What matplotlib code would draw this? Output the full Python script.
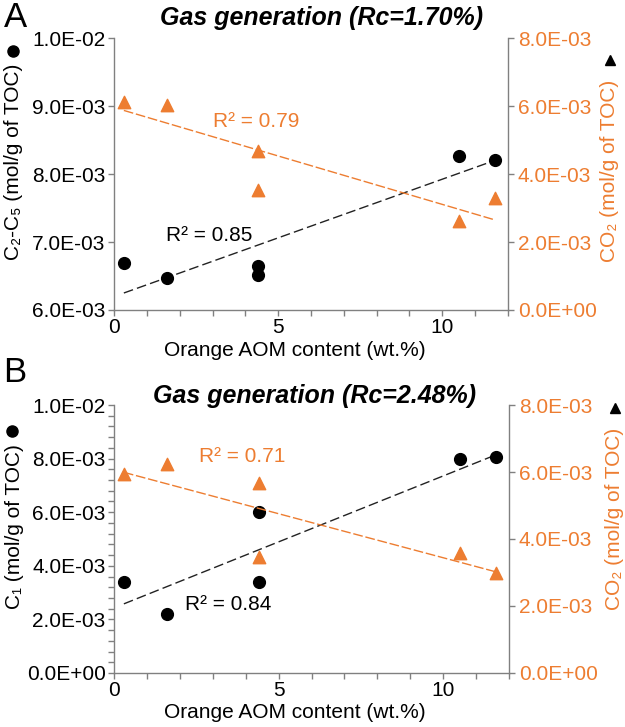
import matplotlib
matplotlib.use("Agg")
import matplotlib.pyplot as plt
from matplotlib.ticker import MultipleLocator, FuncFormatter, NullFormatter

plt.rcParams['font.family'] = ['Liberation Sans', 'DejaVu Sans']

ORANGE = '#ED7D31'
SPINE = '#808080'

# ---------------- data ----------------
aom = [0.3, 1.6, 4.4, 4.4, 10.5, 11.6]

# Panel A (Rc = 1.70%)
c2c5_a = [6.69e-3, 6.47e-3, 6.65e-3, 6.51e-3, 8.27e-3, 8.21e-3]
co2_a = [6.12e-3, 6.03e-3, 4.68e-3, 3.54e-3, 2.62e-3, 3.29e-3]
trend_x = [0.3, 11.6]
trend_c2c5_a = [6.25e-3, 8.20e-3]
trend_co2_a = [5.87e-3, 2.65e-3]
r2_c2c5_a = "R² = 0.85"
r2_co2_a = "R² = 0.79"

# Panel B (Rc = 2.48%)
c1_b = [3.41e-3, 2.21e-3, 5.99e-3, 3.39e-3, 7.98e-3, 8.06e-3]
co2_b = [5.94e-3, 6.23e-3, 5.66e-3, 3.45e-3, 3.59e-3, 2.99e-3]
trend_c1_b = [2.58e-3, 8.14e-3]
trend_co2_b = [5.99e-3, 3.02e-3]
r2_c1_b = "R² = 0.84"
r2_co2_b = "R² = 0.71"

xlabel = "Orange AOM content (wt.%)"
title_a = "Gas generation (Rc=1.70%)"
title_b = "Gas generation (Rc=2.48%)"
ylabel_a = "C₂-C₅ (mol/g of TOC)"
ylabel_b = "C₁ (mol/g of TOC)"
ylabel_r = "CO₂ (mol/g of TOC)"

FS = 15


def sci(v, pos):
    if v == 0:
        return "0.0E+00"
    return f"{v:.1E}"


def style_axes(ax, axr, left_lim, left_major, left_minor, right_lim, right_major):
    ax.set_xlim(0, 12)
    ax.set_ylim(*left_lim)
    axr.set_ylim(*right_lim)
    for a in (ax, axr):
        for s in a.spines.values():
            s.set_color(SPINE)
            s.set_linewidth(1.0)
        a.spines['top'].set_visible(False)
    ax.spines['right'].set_visible(False)
    axr.spines['left'].set_visible(False)
    axr.spines['bottom'].set_visible(False)

    ax.xaxis.set_major_locator(MultipleLocator(5))
    ax.xaxis.set_minor_locator(MultipleLocator(1))
    ax.xaxis.set_minor_formatter(NullFormatter())
    ax.tick_params(axis='x', which='both', direction='out', length=4, width=1,
                   color=SPINE, labelsize=FS, pad=2)
    ax.yaxis.set_major_locator(MultipleLocator(left_major))
    if left_minor:
        ax.yaxis.set_minor_locator(MultipleLocator(left_minor))
    ax.yaxis.set_major_formatter(FuncFormatter(sci))
    ax.tick_params(axis='y', which='both', direction='out', length=4, width=1,
                   color=SPINE, labelsize=FS, pad=2)
    axr.yaxis.set_major_locator(MultipleLocator(right_major))
    axr.yaxis.set_major_formatter(FuncFormatter(sci))
    axr.tick_params(axis='y', which='both', direction='out', length=4, width=1,
                    color=SPINE, labelsize=FS, labelcolor=ORANGE, pad=3)
    ax.set_xlabel(xlabel, fontsize=FS)
    ax.xaxis.set_label_coords(0.459, -0.113)


def side_marker(ax, x, y, marker, ms):
    ax.plot([x], [y], marker=marker, ms=ms, color='black', ls='none',
            transform=ax.transAxes, clip_on=False)


fig = plt.figure(figsize=(6.25, 7.27), dpi=100)

# ---------------- Panel A ----------------
axA = fig.add_axes([0.1824, 0.5736, 0.6304, 0.3741])
axAr = axA.twinx()
style_axes(axA, axAr, (6e-3, 1e-2), 1e-3, None, (0, 8e-3), 2e-3)
axA.plot(trend_x, trend_c2c5_a, color='#222222', lw=1.0, ls=(0, (7, 3)), zorder=2)
axA.scatter(aom, c2c5_a, s=72, color='black', zorder=3, clip_on=False)
axAr.plot(trend_x, trend_co2_a, color=ORANGE, lw=1.0, ls=(0, (7, 2)), zorder=2)
axAr.scatter(aom, co2_a, s=80, marker='^', color=ORANGE, zorder=3, clip_on=False)
axA.text(2.89, 7.10e-3, r2_c2c5_a, fontsize=FS, color='black', ha='center', va='center')
axAr.text(4.33, 5.53e-3, r2_co2_a, fontsize=FS, color=ORANGE, ha='center', va='center')
axA.text(0.527, 1.048, title_a, transform=axA.transAxes, fontsize=18,
         fontweight='bold', fontstyle='italic', ha='center', va='baseline')
axA.text(-0.256, 0.544, ylabel_a, transform=axA.transAxes, rotation=90,
         fontsize=FS, ha='center', va='center')
side_marker(axA, -0.257, 0.952, 'o', 8)
axA.text(1.258, 0.511, ylabel_r, transform=axA.transAxes, rotation=90,
         fontsize=FS, color=ORANGE, ha='center', va='center')
side_marker(axA, 1.259, 0.919, '^', 7)

# ---------------- Panel B ----------------
axB = fig.add_axes([0.1824, 0.0743, 0.632, 0.3686])
axBr = axB.twinx()
style_axes(axB, axBr, (0, 1e-2), 2e-3, 4e-4, (0, 8e-3), 2e-3)
axB.plot(trend_x, trend_c1_b, color='#222222', lw=1.0, ls=(0, (7, 3)), zorder=2)
axB.scatter(aom, c1_b, s=72, color='black', zorder=3, clip_on=False)
axBr.plot(trend_x, trend_co2_b, color=ORANGE, lw=1.0, ls=(0, (7, 2)), zorder=2)
axBr.scatter(aom, co2_b, s=80, marker='^', color=ORANGE, zorder=3, clip_on=False)
axB.text(3.47, 2.55e-3, r2_c1_b, fontsize=FS, color='black', ha='center', va='center')
axBr.text(3.88, 6.46e-3, r2_co2_b, fontsize=FS, color=ORANGE, ha='center', va='center')
axB.text(0.509, 1.0075, title_b, transform=axB.transAxes, fontsize=18,
         fontweight='bold', fontstyle='italic', ha='center', va='baseline')
axB.text(-0.253, 0.546, ylabel_b, transform=axB.transAxes, rotation=90,
         fontsize=FS, ha='center', va='center')
side_marker(axB, -0.257, 0.904, 'o', 8)
axB.text(1.266, 0.575, ylabel_r, transform=axB.transAxes, rotation=90,
         fontsize=FS, color=ORANGE, ha='center', va='center')
side_marker(axB, 1.268, 0.989, '^', 7)

# panel letters
fig.text(4 / 625, 1 - 27 / 727, "A", fontsize=25, ha='left', va='baseline')
fig.text(3 / 625, 1 - 382 / 727, "B", fontsize=25, ha='left', va='baseline')

fig.savefig("out.png", dpi=100)
